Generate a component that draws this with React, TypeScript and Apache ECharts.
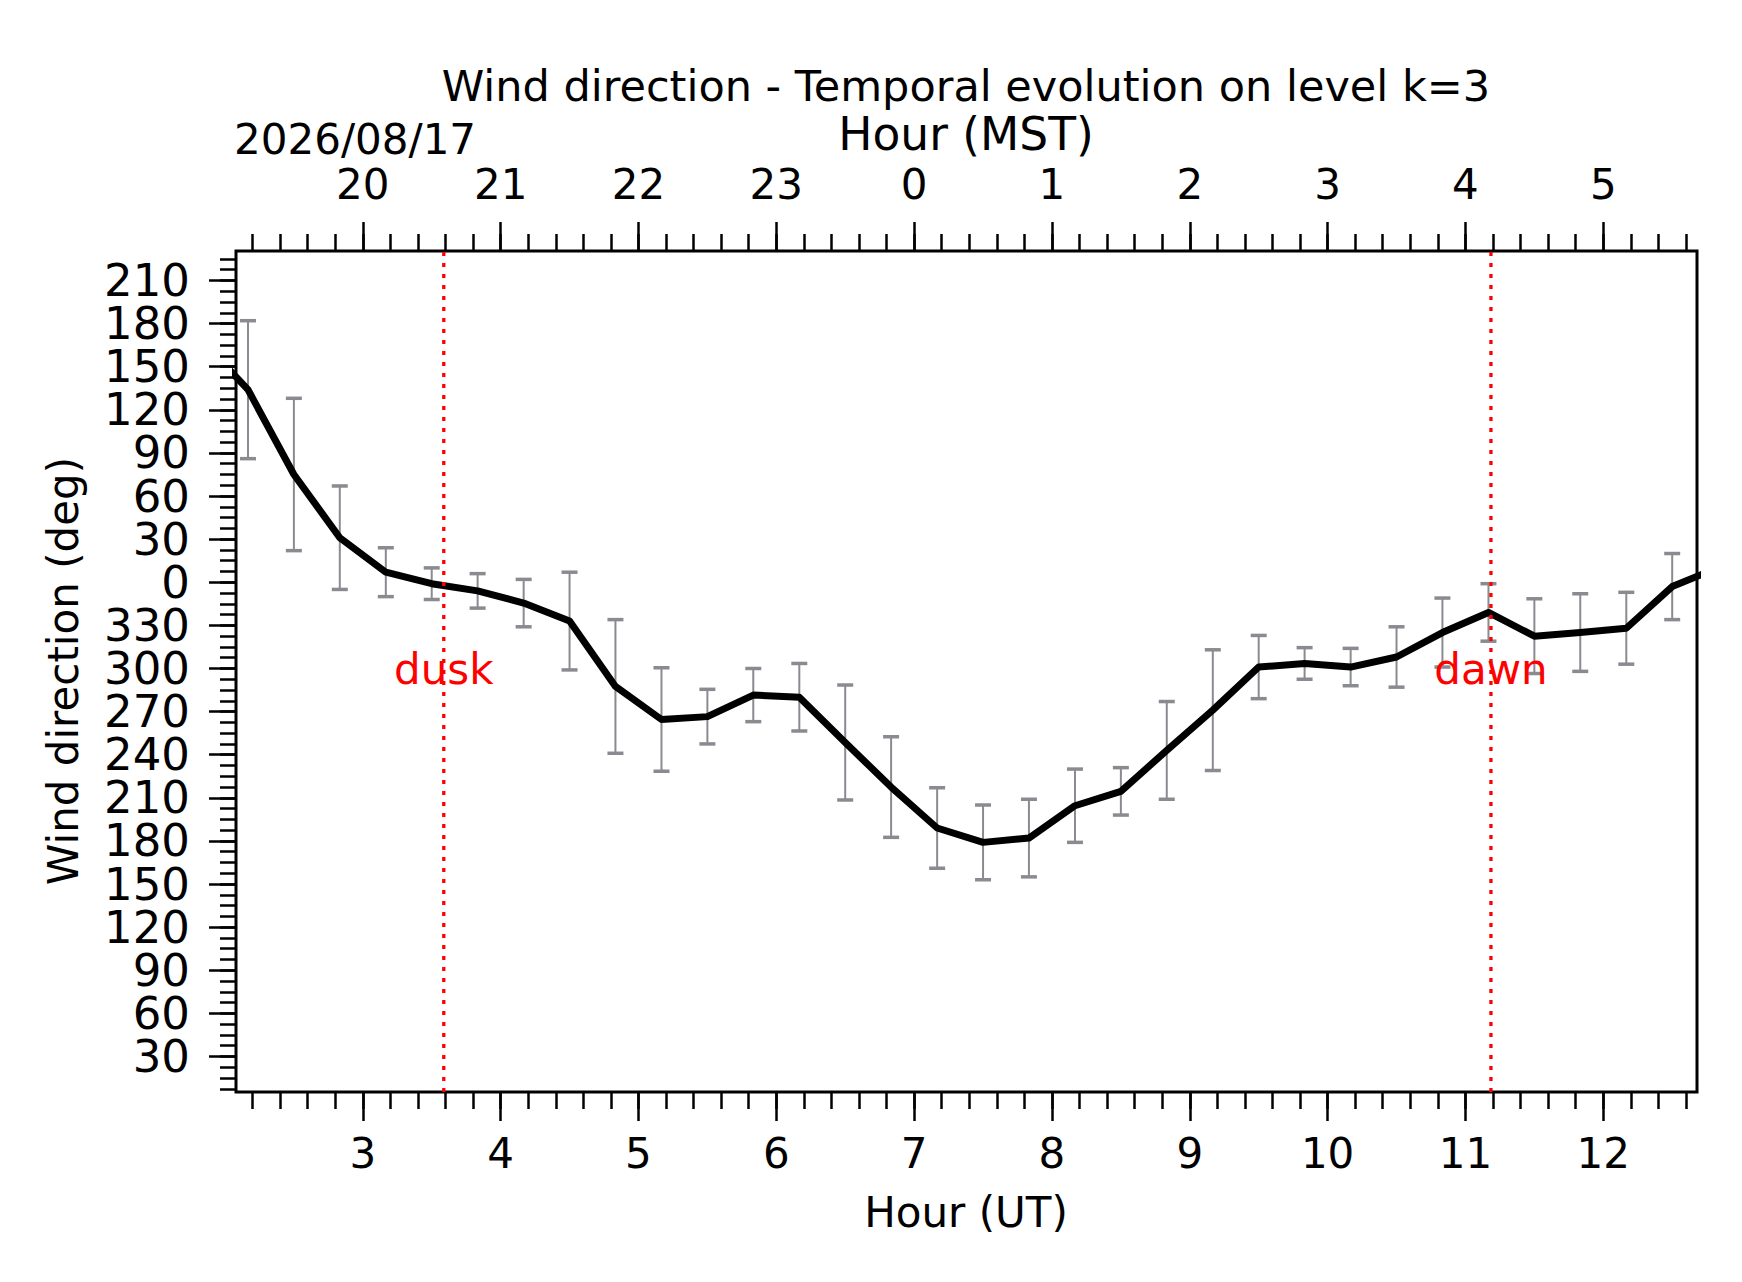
import { useEffect, useRef } from 'react';
import * as echarts from 'echarts';

// UT hour of each sample, wind direction (unwrapped, deg) and its spread
const hoursUT = [
  1.833, 2.167, 2.5, 2.833, 3.167, 3.5, 3.833, 4.167, 4.5, 4.833, 5.167, 5.5,
  5.833, 6.167, 6.5, 6.833, 7.167, 7.5, 7.833, 8.167, 8.5, 8.833, 9.167, 9.5,
  9.833, 10.167, 10.5, 10.833, 11.167, 11.5, 11.833, 12.167, 12.5, 12.833,
];
const direction = [
  528, 494, 435, 391, 367, 359, 354, 345.5, 333, 287.5, 264.5, 266.5, 281.5,
  280, 248.5, 217.5, 189, 179, 182, 204.5, 214.5, 243, 271, 301, 303.5, 301,
  308, 325, 339, 322.5, 325, 328, 357, 370,
];
const spread = [
  50, 48, 53, 36, 17, 11, 12, 16.5, 34, 46.5, 36, 19, 18.5, 23.5, 40, 35, 28,
  26, 27, 25.5, 16.5, 34, 42, 22, 11, 13, 21, 24, 20, 26, 27, 25, 23, 23,
];

const utTicks = [3, 4, 5, 6, 7, 8, 9, 10, 11, 12];
const mstTicks = [20, 21, 22, 23, 0, 1, 2, 3, 4, 5];
const dirLabels = [
  30, 60, 90, 120, 150, 180, 210, 240, 270, 300, 330, 0, 30, 60, 90, 120, 150,
  180, 210,
];

const eventNames = ['dusk', 'dawn'];
const eventHours = [3.5875, 11.185];
const eventLabelDir = 299;

const xRange = [2.08, 12.68];
const dirRange = [5.3, 590.5];

const FONT = 'DejaVu Sans';
const ERR = '#898b91';

export default function App() {
  const ref = useRef<HTMLDivElement>(null);

  useEffect(() => {
    document.body.style.margin = '0';
    if (!ref.current) return;
    const chart = echarts.init(ref.current, undefined, { renderer: 'svg' });

    const dirTicks = dirLabels.map((_, i) => 30 * (i + 1));
    const xMinor: number[] = [];
    for (let t = 2.2; t < xRange[1]; t += 0.2) xMinor.push(Math.round(t * 10) / 10);
    const yMinor: number[] = [];
    for (let v = 7.5; v < dirRange[1]; v += 7.5) yMinor.push(v);

    const tickStyle = { color: '#000', width: 2.5 };
    const label = {
      fontSize: 42,
      fontFamily: FONT,
      color: '#000',
      showMinLabel: true,
      showMaxLabel: true,
      hideOverlap: false,
    };
    const text = (t: string, x: number, y: number, size: number, align = 'center') => ({
      type: 'text',
      x,
      y,
      style: {
        text: t,
        fontSize: size,
        fontFamily: FONT,
        fill: '#000',
        align,
        verticalAlign: 'middle',
      },
    });

    const xBase = {
      type: 'value',
      min: xRange[0],
      max: xRange[1],
      axisLine: { show: false, onZero: false },
      splitLine: { show: false },
    };
    const yBase = {
      type: 'value',
      min: dirRange[0],
      max: dirRange[1],
      position: 'left',
      axisLine: { show: false, onZero: false },
      splitLine: { show: false },
    };

    chart.setOption({
      animation: false,
      textStyle: { fontFamily: FONT },
      grid: {
        left: 236,
        top: 251,
        width: 1461,
        height: 841,
        show: true,
        borderColor: '#000',
        borderWidth: 3,
        containLabel: false,
        outerBoundsMode: 'none',
      },
      xAxis: [
        {
          ...xBase,
          position: 'bottom',
          axisTick: { length: 29, lineStyle: tickStyle, customValues: utTicks },
          axisLabel: { ...label, margin: 40, customValues: utTicks },
        },
        {
          ...xBase,
          position: 'bottom',
          axisTick: { length: 17, lineStyle: tickStyle, customValues: xMinor },
          axisLabel: { show: false },
        },
        {
          ...xBase,
          position: 'top',
          axisTick: { length: 29, lineStyle: tickStyle, customValues: utTicks },
          axisLabel: {
            ...label,
            margin: 46,
            customValues: utTicks,
            formatter: (v: number) => String(mstTicks[utTicks.indexOf(v)]),
          },
        },
        {
          ...xBase,
          position: 'top',
          axisTick: { length: 17, lineStyle: tickStyle, customValues: xMinor },
          axisLabel: { show: false },
        },
      ],
      yAxis: [
        {
          ...yBase,
          axisTick: { length: 27, lineStyle: tickStyle, customValues: dirTicks },
          axisLabel: { show: false },
        },
        {
          ...yBase,
          axisTick: { length: 16, lineStyle: tickStyle, customValues: yMinor },
          axisLabel: { show: false },
        },
      ],
      graphic: [
        text('Wind direction - Temporal evolution on level k=3', 966, 86, 43),
        text('Hour (MST)', 966, 134, 45.5),
        text('2026/08/17', 234, 139, 42, 'left'),
        text('Hour (UT)', 966, 1212, 42),
        { ...text('Wind direction (deg)', 63, 671, 42), rotation: Math.PI / 2 },
      ],
      series: [
        {
          // direction tick labels, wrapped to 0-360, placed by the y scale
          type: 'custom',
          name: 'dirLabels',
          xAxisIndex: 0,
          yAxisIndex: 0,
          clip: false,
          silent: true,
          data: dirTicks.map((v, i) => [xRange[0], v, i]),
          encode: { x: 0, y: 1 },
          renderItem: (_params: unknown, api: any) => {
            const c = api.coord([api.value(0), api.value(1)]);
            return {
              type: 'text',
              x: c[0] - 46,
              y: c[1],
              style: {
                text: String(dirLabels[api.value(2)]),
                fontSize: 45,
                fontFamily: FONT,
                fill: '#000',
                align: 'right',
                verticalAlign: 'middle',
              },
            };
          },
        },
        {
          type: 'custom',
          name: 'spread',
          xAxisIndex: 0,
          yAxisIndex: 0,
          clip: true,
          z: 1,
          data: hoursUT.map((h, i) => [h, direction[i], spread[i]]),
          encode: { x: 0, y: 1 },
          renderItem: (_params: unknown, api: any) => {
            const x = api.value(0);
            const y = api.value(1);
            const e = api.value(2);
            const top = api.coord([x, y + e]);
            const bot = api.coord([x, y - e]);
            const cap = 8;
            return {
              type: 'group',
              children: [
                {
                  type: 'line',
                  shape: { x1: top[0], y1: top[1], x2: bot[0], y2: bot[1] },
                  style: { stroke: ERR, lineWidth: 2 },
                },
                {
                  type: 'line',
                  shape: { x1: top[0] - cap, y1: top[1], x2: top[0] + cap, y2: top[1] },
                  style: { stroke: ERR, lineWidth: 3.5 },
                },
                {
                  type: 'line',
                  shape: { x1: bot[0] - cap, y1: bot[1], x2: bot[0] + cap, y2: bot[1] },
                  style: { stroke: ERR, lineWidth: 3.5 },
                },
              ],
            };
          },
        },
        {
          type: 'line',
          name: 'direction',
          xAxisIndex: 0,
          yAxisIndex: 0,
          z: 2,
          clip: true,
          symbol: 'none',
          data: hoursUT.map((h, i) => [h, direction[i]]),
          lineStyle: { color: '#000', width: 7, join: 'round' },
        },
        {
          type: 'custom',
          name: 'events',
          xAxisIndex: 0,
          yAxisIndex: 0,
          z: 3,
          data: eventHours.map((h, i) => [h, eventLabelDir, i]),
          encode: { x: 0, y: 1 },
          renderItem: (_params: unknown, api: any) => {
            const h = api.value(0);
            const lo = api.coord([h, dirRange[0]]);
            const hi = api.coord([h, dirRange[1]]);
            const at = api.coord([h, api.value(1)]);
            return {
              type: 'group',
              children: [
                {
                  type: 'line',
                  shape: { x1: lo[0], y1: lo[1], x2: hi[0], y2: hi[1] },
                  style: { stroke: '#ff0000', lineWidth: 3.3, lineDash: [4, 7] },
                },
                {
                  type: 'text',
                  x: at[0],
                  y: at[1],
                  style: {
                    text: eventNames[api.value(2)],
                    fill: '#ff0000',
                    fontSize: 42,
                    fontFamily: FONT,
                    align: 'center',
                    verticalAlign: 'middle',
                  },
                },
              ],
            };
          },
        },
      ],
    });

    return () => chart.dispose();
  }, []);

  return <div ref={ref} style={{ width: 1742, height: 1282 }} />;
}
